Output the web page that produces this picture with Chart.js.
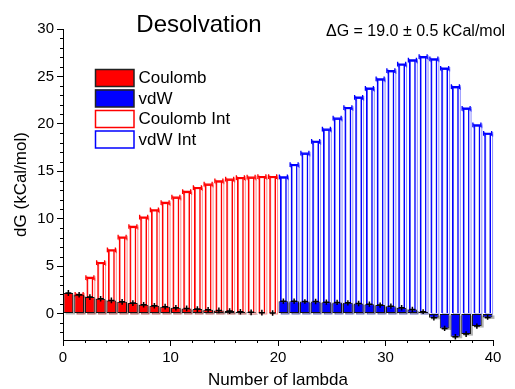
<!DOCTYPE html>
<html>
<head>
<meta charset="utf-8">
<script src="https://cdn.jsdelivr.net/npm/chart.js@4.4.0/dist/chart.umd.min.js"></script>
<style>
    html, body { margin: 0; padding: 0; background: #fff; }
</style>
</head>
<body>
<canvas id="chart" width="515" height="389"></canvas>
<script>
// values, one per lambda window
var coulomb = [2.15, 1.97, 1.73, 1.55, 1.37, 1.23, 1.09, 0.92, 0.81, 0.71,
               0.60, 0.53, 0.46, 0.39, 0.32, 0.25, 0.18, 0.12, 0.08, 0.05];
var coulombErr = [0.32, 0.28, 0.3, 0.3, 0.3, 0.3, 0.3, 0.3, 0.3, 0.3,
                  0.3, 0.3, 0.3, 0.3, 0.3, 0.3, 0.3, 0.3, 0.3, 0.3];
var vdw = [1.30, 1.30, 1.26, 1.26, 1.19, 1.16, 1.12, 1.05, 0.98, 0.88,
           0.77, 0.60, 0.42, 0.18, -0.46, -1.58, -2.46, -2.18, -1.33, -0.42];
var vdwErr = [0.28, 0.28, 0.25, 0.28, 0.28, 0.28, 0.28, 0.28, 0.28, 0.28,
              0.28, 0.28, 0.28, 0.25, 0.28, 0.28, 0.3, 0.3, 0.28, 0.25];
var coulombInt = [0, 2.0, 3.79, 5.37, 6.71, 8.05, 9.17, 10.16, 10.93, 11.70,
                  12.26, 12.86, 13.28, 13.63, 13.98, 14.16, 14.33, 14.37, 14.44, 14.44];
var vdwInt = [14.4, 15.7, 16.9, 18.15, 19.43, 20.59, 21.71, 22.8, 23.75, 24.73,
              25.6, 26.3, 26.73, 27.08, 26.84, 25.86, 23.92, 21.64, 19.88, 19.0];
var intErr = 0.25;
var xTicks = [0, 10, 20, 30, 40];
var yTicks = [0, 5, 10, 15, 20, 25, 30];

const font = "'Liberation Sans', Arial, sans-serif";

// bar i of a window sits in the middle of its lambda slot
function points(values, start) {
    return values.map(function (v, i) { return { x: start + i + 0.5, y: v }; });
}

// gray drop shadow under the filled bars, light outline beside the hollow ones
const shadows = {
    id: 'shadows',
    beforeDatasetDraw(chart, args) {
        const ds = chart.data.datasets[args.index];
        const ctx = chart.ctx;
        ctx.save();
        args.meta.data.forEach(function (bar) {
            const top = Math.min(bar.y, bar.base), h = Math.abs(bar.base - bar.y);
            if (h < 0.5) return;
            if (ds.hollow) {
                ctx.strokeStyle = ds.shade;
                ctx.lineWidth = 1;
                ctx.strokeRect(bar.x - bar.width / 2 + 1.5, top + 1, bar.width, h);
            } else {
                ctx.fillStyle = 'rgba(0,0,0,0.3)';
                ctx.fillRect(bar.x - bar.width / 2 + 2, top + 1.5, bar.width, h);
            }
        });
        ctx.restore();
    },
    afterDatasetDraw(chart, args) {
        const ds = chart.data.datasets[args.index];
        const ctx = chart.ctx, y = chart.scales.y;
        ctx.save();
        args.meta.data.forEach(function (bar, i) {
            const v = ds.data[i].y;
            if (v === 0) return;
            const e = ds.hollow ? intErr : ds.errors[i];
            const py = y.getPixelForValue(v);
            const hi = y.getPixelForValue(v + e), lo = y.getPixelForValue(v - e);
            if (ds.hollow) {
                // H shaped marker
                [[ds.shade, 1], [ds.borderColor, 0]].forEach(function (s) {
                    ctx.strokeStyle = s[0];
                    ctx.lineWidth = 1.3;
                    ctx.beginPath();
                    ctx.moveTo(bar.x - 4 + s[1], hi + s[1]); ctx.lineTo(bar.x - 4 + s[1], lo + s[1]);
                    ctx.moveTo(bar.x + 4 + s[1], hi + s[1]); ctx.lineTo(bar.x + 4 + s[1], lo + s[1]);
                    ctx.moveTo(bar.x - 4 + s[1], py + s[1]); ctx.lineTo(bar.x + 4 + s[1], py + s[1]);
                    ctx.stroke();
                });
            } else {
                ctx.strokeStyle = '#000';
                ctx.lineWidth = 1.5;
                ctx.beginPath();
                ctx.moveTo(bar.x, hi); ctx.lineTo(bar.x, lo);
                ctx.moveTo(bar.x - 3, py); ctx.lineTo(bar.x + 3, py);
                ctx.stroke();
            }
        });
        ctx.restore();
    }
};

// minor ticks, legend box and the two headings
const decorations = {
    id: 'decorations',
    afterDraw(chart) {
        const ctx = chart.ctx, x = chart.scales.x, y = chart.scales.y;
        const area = chart.chartArea;
        ctx.save();
        ctx.strokeStyle = '#000';
        ctx.lineWidth = 1;
        ctx.beginPath();
        for (let v = -2; v <= 30; v++) {
            if (v % 5 === 0) continue;
            const py = Math.round(y.getPixelForValue(v)) + 0.5;
            ctx.moveTo(area.left - 3, py); ctx.lineTo(area.left, py);
        }
        for (let v = 2; v < 40; v += 2) {
            if (v % 10 === 0) continue;
            const px = Math.round(x.getPixelForValue(v)) + 0.5;
            ctx.moveTo(px, area.bottom); ctx.lineTo(px, area.bottom + 3);
        }
        ctx.stroke();

        // legend
        const rowTops = [69, 89.5, 110, 130.5];
        ctx.font = '17px ' + font;
        ctx.textBaseline = 'middle';
        chart.data.datasets.forEach(function (ds, i) {
            const top = rowTops[i];
            ctx.fillStyle = ds.hollow ? '#fff' : ds.backgroundColor;
            ctx.fillRect(95, top, 39, 17.5);
            ctx.lineWidth = 1.5;
            ctx.strokeStyle = ds.hollow ? ds.borderColor : '#222';
            ctx.strokeRect(95.5, top + 0.5, 38.5, 17);
            ctx.fillStyle = '#000';
            ctx.fillText(ds.label, 138.5, top + 9.5);
        });

        ctx.textBaseline = 'alphabetic';
        ctx.font = '24px ' + font;
        ctx.textAlign = 'center';
        ctx.fillText('Desolvation', 199, 32);
        ctx.font = '16px ' + font;
        ctx.textAlign = 'left';
        ctx.fillText('\u0394G = 19.0 \u00B1 0.5 kCal/mol', 326, 35.5);
        ctx.restore();
    }
};

new Chart('chart', {
    type: 'bar',
    data: {
        datasets: [{
            label: 'Coulomb',
            data: points(coulomb, 0),
            errors: coulombErr,
            backgroundColor: '#ff0000',
            borderColor: '#111',
            borderWidth: 1,
            borderSkipped: false,
            barPercentage: 0.9,
            order: 0
        }, {
            label: 'vdW',
            data: points(vdw, 20),
            errors: vdwErr,
            backgroundColor: '#0000ff',
            borderColor: '#111',
            borderWidth: 1,
            borderSkipped: false,
            barPercentage: 0.9,
            order: 0
        }, {
            label: 'Coulomb Int',
            data: points(coulombInt, 0),
            hollow: true,
            shade: 'rgba(255,0,0,0.45)',
            backgroundColor: 'rgba(0,0,0,0)',
            borderColor: '#ff0000',
            borderWidth: 1.5,
            barPercentage: 0.64,
            order: 1
        }, {
            label: 'vdW Int',
            data: points(vdwInt, 20),
            hollow: true,
            shade: 'rgba(0,0,255,0.45)',
            backgroundColor: 'rgba(0,0,0,0)',
            borderColor: '#0000ff',
            borderWidth: 1.5,
            barPercentage: 0.64,
            order: 1
        }]
    },
    options: {
        responsive: false,
        animation: false,
        datasets: { bar: { grouped: false, categoryPercentage: 1 } },
        layout: { padding: { left: 0, right: 22, top: 29, bottom: 0 } },
        plugins: { legend: { display: false }, tooltip: { enabled: false } },
        scales: {
            x: {
                type: 'linear',
                min: 0,
                max: 40,
                offset: false,
                afterFit: function (s) { s.height = 49; },
                afterBuildTicks: function (s) { s.ticks = xTicks.map(function (v) { return { value: v }; }); },
                grid: { offset: false, drawOnChartArea: false, tickLength: 6, tickColor: '#000' },
                border: { color: '#000', width: 1 },
                ticks: { color: '#000', font: { family: font, size: 15 }, padding: 3, maxRotation: 0 },
                title: { display: true, text: 'Number of lambda', color: '#000', font: { family: font, size: 17 }, padding: { top: 0, bottom: -2 } }
            },
            y: {
                min: -2.8,
                max: 30,
                afterFit: function (s) { s.width = 63; },
                afterBuildTicks: function (s) { s.ticks = yTicks.map(function (v) { return { value: v }; }); },
                grid: { drawOnChartArea: false, tickLength: 6, tickColor: '#000' },
                border: { color: '#000', width: 1 },
                ticks: { color: '#000', font: { family: font, size: 15 }, padding: 3 },
                title: { display: true, text: 'dG (kCal/mol)', color: '#000', font: { family: font, size: 17 }, padding: { top: 11, bottom: 0 } }
            }
        }
    },
    plugins: [shadows, decorations]
});
</script>
</body>
</html>
